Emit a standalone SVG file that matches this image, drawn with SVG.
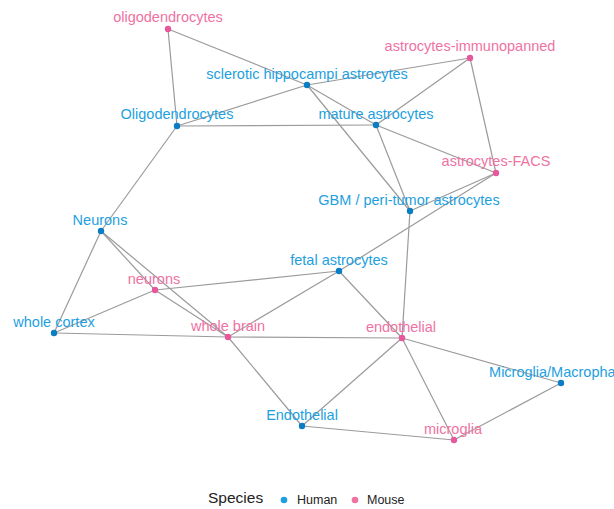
<svg xmlns="http://www.w3.org/2000/svg" width="614" height="509" viewBox="0 0 614 509">
<style>
.e{stroke:#9b9b9b;stroke-width:1.2;fill:none}
.h circle{fill:#0b7dc4}
.m circle{fill:#e8579b}
.h text{fill:#1e9fe0}
.m text{fill:#ef72a3}
text{font-family:"Liberation Sans",Arial,sans-serif;font-size:14.5px;text-anchor:middle}
.lg{fill:#222;text-anchor:start}
</style>
<rect width="614" height="509" fill="#fff"/>
<g id="edges">
<line class="e" x1="168" y1="29" x2="177" y2="126"/>
<line class="e" x1="168" y1="29" x2="307" y2="85"/>
<line class="e" x1="177" y1="126" x2="307" y2="85"/>
<line class="e" x1="177" y1="126" x2="376" y2="125"/>
<line class="e" x1="177" y1="126" x2="101" y2="231"/>
<line class="e" x1="307" y1="85" x2="470" y2="58"/>
<line class="e" x1="307" y1="85" x2="376" y2="125"/>
<line class="e" x1="307" y1="85" x2="410" y2="211"/>
<line class="e" x1="376" y1="125" x2="470" y2="58"/>
<line class="e" x1="376" y1="125" x2="496" y2="173"/>
<line class="e" x1="376" y1="125" x2="410" y2="211"/>
<line class="e" x1="470" y1="58" x2="496" y2="173"/>
<line class="e" x1="496" y1="173" x2="410" y2="211"/>
<line class="e" x1="496" y1="173" x2="339" y2="271"/>
<line class="e" x1="410" y1="211" x2="402" y2="338"/>
<line class="e" x1="339" y1="271" x2="155" y2="290"/>
<line class="e" x1="339" y1="271" x2="228" y2="337"/>
<line class="e" x1="339" y1="271" x2="402" y2="338"/>
<line class="e" x1="101" y1="231" x2="54" y2="333"/>
<line class="e" x1="101" y1="231" x2="155" y2="290"/>
<line class="e" x1="101" y1="231" x2="228" y2="337"/>
<line class="e" x1="155" y1="290" x2="228" y2="337"/>
<line class="e" x1="155" y1="290" x2="54" y2="333"/>
<line class="e" x1="54" y1="333" x2="228" y2="337"/>
<line class="e" x1="228" y1="337" x2="402" y2="338"/>
<line class="e" x1="228" y1="337" x2="302" y2="426"/>
<line class="e" x1="402" y1="338" x2="302" y2="426"/>
<line class="e" x1="402" y1="338" x2="454" y2="440"/>
<line class="e" x1="402" y1="338" x2="561" y2="383"/>
<line class="e" x1="302" y1="426" x2="454" y2="440"/>
<line class="e" x1="454" y1="440" x2="561" y2="383"/>
</g>
<g id="n-oligodendrocytes-m" class="m"><circle cx="168" cy="29" r="3.2"/><text x="168" y="22">oligodendrocytes</text></g>
<g id="n-sclerotic" class="h"><circle cx="307" cy="85" r="3.2"/><text x="307" y="78.5">sclerotic hippocampi astrocytes</text></g>
<g id="n-Oligodendrocytes-h" class="h"><circle cx="177" cy="126" r="3.2"/><text x="177" y="119">Oligodendrocytes</text></g>
<g id="n-immunopanned" class="m"><circle cx="470" cy="58" r="3.2"/><text x="470" y="51">astrocytes-immunopanned</text></g>
<g id="n-mature" class="h"><circle cx="376" cy="125" r="3.2"/><text x="376" y="118.5">mature astrocytes</text></g>
<g id="n-facs" class="m"><circle cx="496" cy="173" r="3.2"/><text x="496" y="166">astrocytes-FACS</text></g>
<g id="n-gbm" class="h"><circle cx="410" cy="211" r="3.2"/><text x="409" y="204.5">GBM / peri-tumor astrocytes</text></g>
<g id="n-Neurons-h" class="h"><circle cx="101" cy="231" r="3.2"/><text x="100" y="224.5">Neurons</text></g>
<g id="n-fetal" class="h"><circle cx="339" cy="271" r="3.2"/><text x="339" y="264.5">fetal astrocytes</text></g>
<g id="n-neurons-m" class="m"><circle cx="155" cy="290" r="3.2"/><text x="154" y="283.5">neurons</text></g>
<g id="n-wholecortex" class="h"><circle cx="54" cy="333" r="3.2"/><text x="54" y="326.5">whole cortex</text></g>
<g id="n-wholebrain" class="m"><circle cx="228" cy="337" r="3.2"/><text x="228" y="330.5">whole brain</text></g>
<g id="n-endothelial-m" class="m"><circle cx="402" cy="338" r="3.2"/><text x="401" y="331.5">endothelial</text></g>
<g id="n-microglia-macrophages" class="h"><circle cx="561" cy="383" r="3.2"/><text x="564" y="376.5">Microglia/Macrophages</text></g>
<g id="n-Endothelial-h" class="h"><circle cx="302" cy="426" r="3.2"/><text x="302" y="419.5">Endothelial</text></g>
<g id="n-microglia-m" class="m"><circle cx="454" cy="440" r="3.2"/><text x="453" y="433.5">microglia</text></g>
<g id="legend">
<text class="lg" x="208" y="503" style="font-size:15.5px">Species</text>
<circle cx="284" cy="500" r="3.3" fill="#1e9fe0"/>
<text class="lg" x="297" y="504" style="font-size:12.5px">Human</text>
<circle cx="355" cy="500" r="3.3" fill="#ef72a3"/>
<text class="lg" x="367" y="504" style="font-size:12.5px">Mouse</text>
</g>
</svg>
